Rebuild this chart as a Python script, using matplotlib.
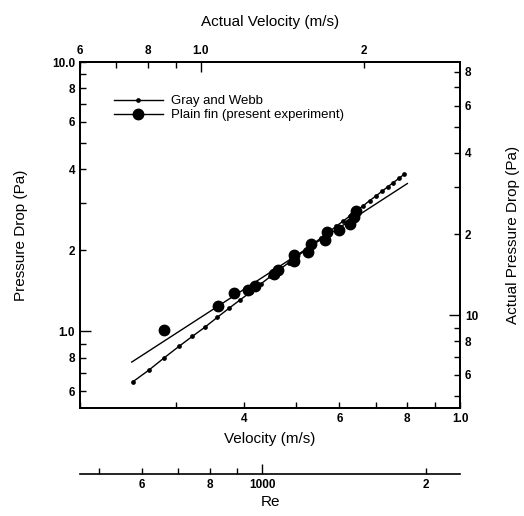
import numpy as np
import matplotlib
matplotlib.use('Agg')
import matplotlib.pyplot as plt

plt.rcParams['font.family'] = ['Liberation Sans', 'DejaVu Sans']

# Gray and Webb correlation (velocity in the plotted units, pressure drop Pa)
gw_vel = [0.250, 0.268, 0.286, 0.304, 0.322, 0.340, 0.358, 0.376, 0.394, 0.412,
          0.430, 0.448, 0.466, 0.484, 0.502, 0.520, 0.538, 0.556, 0.574, 0.592,
          0.610, 0.628, 0.646, 0.664, 0.682, 0.700, 0.718, 0.736, 0.754, 0.772,
          0.790]
gw_dp = [0.65, 0.72, 0.80, 0.88, 0.96, 1.04, 1.13, 1.22, 1.31, 1.40,
         1.50, 1.60, 1.70, 1.80, 1.90, 2.01, 2.12, 2.23, 2.34, 2.46,
         2.57, 2.69, 2.81, 2.93, 3.06, 3.18, 3.31, 3.44, 3.57, 3.70,
         3.84]

# plain fin, present experiment
pf_vel = [0.286, 0.359, 0.384, 0.408, 0.420, 0.455, 0.463, 0.494, 0.496, 0.526,
          0.533, 0.565, 0.570, 0.600, 0.628, 0.637, 0.645]
pf_dp = [1.01, 1.24, 1.39, 1.42, 1.47, 1.64, 1.69, 1.92, 1.82, 1.97,
         2.11, 2.18, 2.33, 2.37, 2.50, 2.67, 2.81]
fit_vel = [0.249, 0.80]
fit_dp = [0.77, 3.54]

vel_ticks = [0.2, 0.3, 0.4, 0.5, 0.6, 0.7, 0.8, 0.9, 1.0]
vel_labels = ['', '', '4', '', '6', '', '8', '', '1.0']
dp_ticks = [0.6, 0.7, 0.8, 0.9, 1.0, 2, 3, 4, 5, 6, 7, 8, 9, 10]
dp_labels = ['6', '', '8', '', '1.0', '2', '', '4', '', '6', '', '8', '', '10.0']
act_vel_ticks = [0.6, 0.7, 0.8, 0.9, 1.0, 2]
act_vel_labels = ['6', '', '8', '', '1.0', '2']
act_dp_ticks = [5, 6, 7, 8, 9, 10, 20, 30, 40, 50, 60, 70, 80]
act_dp_labels = ['', '6', '', '8', '', '10', '2', '', '4', '', '6', '', '8']
re_ticks = [500, 600, 700, 800, 900, 1000, 2000]
re_labels = ['', '6', '', '8', '', '1000', '2']

fig = plt.figure(figsize=(5.24, 5.16), dpi=100)
ax = fig.add_axes([0.1527, 0.2093, 0.7252, 0.6705])

ax.plot(gw_vel, gw_dp, color='black', lw=1.0, marker='o', ms=2.4,
        label='Gray and Webb')
ax.plot(fit_vel, fit_dp, color='black', lw=1.0)
ax.plot(pf_vel, pf_dp, ls='none', marker='o', ms=7.5, color='black')
# legend proxy for the experiment: line with big dot
ax.plot([], [], color='black', lw=1.0, marker='o', ms=7.5,
        label='Plain fin (present experiment)')

ax.set_xscale('log')
ax.set_yscale('log')
ax.set_xlim(0.2, 1.0)
ax.set_ylim(0.52, 10)
ax.set_xticks(vel_ticks, vel_labels)
ax.set_yticks(dp_ticks, dp_labels)
ax.minorticks_off()
ax.set_xlabel('Velocity (m/s)', fontsize=11, labelpad=5)
ax.set_ylabel('Pressure Drop (Pa)', fontsize=11, labelpad=17)

tick_kw = dict(direction='in', length=4, width=1.0, labelsize=8.5)
ax.tick_params(**tick_kw)
for lab in ax.get_xticklabels() + ax.get_yticklabels():
    lab.set_fontweight('bold')

# top: actual velocity
ax_top = ax.twiny()
ax_top.set_xscale('log')
ax_top.set_xlim(0.6, 3.0)
ax_top.set_xticks(act_vel_ticks, act_vel_labels)
ax_top.minorticks_off()
ax_top.tick_params(**tick_kw)
ax_top.set_xlabel('Actual Velocity (m/s)', fontsize=11, labelpad=14)

# right: actual pressure drop
ax_right = ax.twinx()
ax_right.set_yscale('log')
ax_right.set_ylim(0.52 * 8.7, 10 * 8.7)
ax_right.set_yticks(act_dp_ticks, act_dp_labels)
ax_right.minorticks_off()
ax_right.tick_params(**tick_kw)
ax_right.set_ylabel('Actual Pressure Drop (Pa)', fontsize=11, labelpad=20)

# Reynolds number axis below
ax_re = ax.twiny()
ax_re.set_xscale('log')
ax_re.set_xlim(0.2 * 2310, 1.0 * 2310)
ax_re.xaxis.set_ticks_position('bottom')
ax_re.xaxis.set_label_position('bottom')
ax_re.spines['bottom'].set_position(('outward', 47.5))
for s in ['top', 'left', 'right']:
    ax_re.spines[s].set_visible(False)
ax_re.set_xticks(re_ticks, re_labels)
ax_re.minorticks_off()
ax_re.tick_params(**tick_kw)
ax_re.set_xlabel('Re', fontsize=11, labelpad=3)

for a in [ax_top, ax_right, ax_re]:
    for lab in a.get_xticklabels() + a.get_yticklabels():
        lab.set_fontweight('bold')
for a in [ax, ax_top, ax_right, ax_re]:
    for s in a.spines.values():
        s.set_linewidth(1.2)

# long ticks at the decade marks
for t in ax.yaxis.get_major_ticks():
    if t.get_loc() == 1.0:
        t.tick1line.set_markersize(8)
for t in ax_right.yaxis.get_major_ticks():
    if t.get_loc() == 10:
        t.tick2line.set_markersize(8)
for t in ax_top.xaxis.get_major_ticks():
    if t.get_loc() == 1.0:
        t.tick2line.set_markersize(7)
for t in ax_re.xaxis.get_major_ticks():
    if t.get_loc() == 1000:
        t.tick1line.set_markersize(7)

ax.legend(loc='upper left', bbox_to_anchor=(0.075, 0.92), frameon=False,
          handlelength=3.7, fontsize=9.5, labelspacing=0.15, handletextpad=0.6,
          borderaxespad=0)

fig.savefig('out.png', dpi=100)
